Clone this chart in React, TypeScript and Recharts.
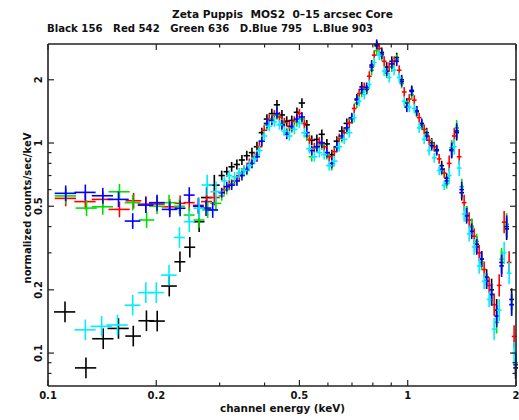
import React from 'react';
import { ScatterChart, Scatter, XAxis, YAxis, ErrorBar } from 'recharts';

const TITLE = 'Zeta Puppis  MOS2  0\u201315 arcsec Core';
const SUBTITLE = 'Black 156   Red 542   Green 636   D.Blue 795   L.Blue 903';
const X_LABEL = 'channel energy (keV)';
const Y_LABEL = 'normalized counts/sec/keV';

const X_MAJOR = [0.1, 0.2, 0.5, 1, 2];
const X_MINOR = [0.3, 0.4, 0.6, 0.7, 0.8, 0.9];
const Y_MAJOR = [0.1, 0.2, 0.5, 1, 2];
const Y_MINOR = [0.08, 0.09, 0.3, 0.4, 0.6, 0.7, 0.8, 0.9];

const GRID_A = [0.304,0.314,0.324,0.335,0.346,0.357,0.369,0.381,0.393,0.406,0.419,0.433,0.447,0.461,0.476,0.492,0.508,0.524,0.541,0.559,0.577,0.596,0.615,0.635,0.656,0.677,0.699,0.722,0.745,0.769,0.794,0.820,0.847,0.874,0.903,0.932,0.962,0.994,1.026,1.059,1.094,1.129,1.166,1.204,1.243,1.283,1.325,1.368,1.413,1.458,1.506,1.555,1.605,1.657,1.711,1.767,1.824,1.884,1.945,1.995];
const GRID_B = [0.309,0.319,0.330,0.340,0.351,0.363,0.375,0.387,0.399,0.412,0.426,0.440,0.454,0.469,0.484,0.500,0.516,0.533,0.550,0.568,0.586,0.605,0.625,0.645,0.666,0.688,0.710,0.733,0.757,0.782,0.807,0.833,0.860,0.888,0.917,0.947,0.978,1.010,1.043,1.076,1.111,1.147,1.185,1.223,1.263,1.304,1.347,1.390,1.435,1.482,1.530,1.580,1.631,1.684,1.739,1.796,1.854,1.914,1.976];

const BLACK_LOW_E = [0.1115,0.1275,0.1424,0.157,0.1726,0.1878,0.2012,0.2173,0.2327,0.2479,0.2631,0.276,0.29];
const BLACK_LOW = [0.157,0.085,0.117,0.131,0.1205,0.1425,0.142,0.2085,0.272,0.319,0.422,0.55,0.63];
const BLACK_HI = [0.70,0.73,0.77,0.79,0.83,0.87,0.90,0.96,1.12,1.30,1.38,1.52,1.36,1.27,1.28,1.40,1.55,1.22,1.03,1.04,1.10,0.99,0.88,1.02,1.14,1.24,1.30,1.62,1.85,1.80,2.35,2.90,2.70,2.30,2.45,2.55,2.00,1.55,1.78,1.42,1.22,1.12,1.00,0.93,0.78,0.68,0.93,1.12,0.58,0.46,0.40,0.33,0.28,0.23,0.20,0.16,0.27,0.39,0.18,0.085];

const RED_LOW_E = [0.112,0.127,0.142,0.158,0.173,0.187,0.201,0.218,0.233,0.247,0.262,0.276,0.29];
const RED_LOW = [0.545,0.526,0.539,0.483,0.531,0.512,0.512,0.497,0.516,0.52,0.505,0.526,0.55];
const RED_HI = [0.60,0.63,0.66,0.70,0.74,0.80,0.86,0.96,1.15,1.30,1.36,1.33,1.25,1.20,1.27,1.38,1.24,1.04,0.95,1.01,0.96,0.86,0.91,1.05,1.12,1.25,1.46,1.72,1.84,2.08,2.62,2.82,2.45,2.30,2.45,2.22,1.75,1.62,1.60,1.32,1.16,1.03,0.96,0.84,0.72,0.80,1.08,0.86,0.52,0.43,0.36,0.30,0.25,0.21,0.17,0.21,0.42,0.27,0.12];

const GREEN_LOW_E = [0.112,0.128,0.142,0.158,0.172,0.188,0.201,0.217,0.232,0.247,0.263,0.278,0.293];
const GREEN_LOW = [0.56,0.49,0.497,0.586,0.52,0.43,0.50,0.52,0.50,0.454,0.43,0.48,0.516];
const GREEN_HI = [0.56,0.60,0.64,0.66,0.72,0.74,0.80,0.88,1.02,1.22,1.30,1.36,1.24,1.12,1.18,1.26,1.30,1.08,0.86,0.95,0.98,0.88,0.78,0.95,1.06,1.16,1.30,1.55,1.74,1.82,2.22,2.75,2.60,2.15,2.30,2.50,1.92,1.50,1.70,1.40,1.22,1.10,0.99,0.92,0.74,0.64,0.95,1.18,0.62,0.46,0.40,0.34,0.27,0.22,0.19,0.14,0.28,0.41,0.17,0.09];

const BLUE_LOW_E = [0.112,0.127,0.142,0.157,0.172,0.187,0.201,0.218,0.233,0.247,0.262,0.275,0.287];
const BLUE_LOW = [0.576,0.582,0.561,0.539,0.425,0.506,0.520,0.483,0.489,0.565,0.50,0.49,0.48];
const BLUE_HI = [0.58,0.62,0.63,0.66,0.70,0.75,0.80,0.86,1.02,1.24,1.28,1.38,1.22,1.10,1.20,1.30,1.33,1.12,0.92,0.96,1.00,0.90,0.80,0.96,1.08,1.18,1.32,1.60,1.80,1.84,2.30,2.95,2.65,2.20,2.38,2.45,1.96,1.48,1.76,1.42,1.24,1.08,0.97,0.92,0.75,0.66,0.92,1.14,0.60,0.45,0.38,0.32,0.28,0.22,0.19,0.15,0.26,0.40,0.17,0.088];

const CYAN_LOW_E = [0.127,0.141,0.156,0.172,0.187,0.2,0.217,0.232,0.247,0.263,0.277,0.293];
const CYAN_LOW = [0.129,0.134,0.136,0.169,0.194,0.194,0.235,0.355,0.422,0.489,0.631,0.586];
const CYAN_HI = [0.66,0.70,0.69,0.72,0.74,0.78,0.84,0.92,1.08,1.20,1.26,1.22,1.14,1.08,1.16,1.24,1.12,0.94,0.86,0.90,0.88,0.78,0.82,0.96,1.04,1.12,1.32,1.58,1.70,1.90,2.42,2.62,2.20,2.05,2.22,2.05,1.58,1.48,1.46,1.18,1.04,0.92,0.85,0.74,0.63,0.70,0.96,0.76,0.46,0.37,0.32,0.26,0.22,0.18,0.13,0.16,0.30,0.24,0.10];

type Pt = { x: number; y: number; ex: [number, number]; ey: [number, number] };

const lowXFrac = (e: number) => (e < 0.16 ? 0.068 : e < 0.22 ? 0.05 : 0.035);
const gridXFrac = (e: number) => (e < 0.7 ? 0.02 : 0.015);
const gridYFac = (e: number) => (e < 1.3 ? 1.055 : e < 1.7 ? 1.09 : 1.13);

function build(lowE: number[], lowY: number[], lowFac: number, gridE: number[], gridY: number[]): Pt[] {
  const pts: Pt[] = [];
  lowE.forEach((e, i) => {
    const y = lowY[i];
    const xf = lowXFrac(e);
    pts.push({ x: e, y, ex: [e * xf, e * xf], ey: [y - y / lowFac, y * lowFac - y] });
  });
  gridE.forEach((e, i) => {
    const y = gridY[i];
    if (y === undefined) return;
    const xf = gridXFrac(e);
    const f = gridYFac(e);
    pts.push({ x: e, y, ex: [e * xf, e * xf], ey: [y - y / f, y * f - y] });
  });
  return pts;
}

const SERIES = [
  { name: 'Black', color: '#000000', data: build(BLACK_LOW_E, BLACK_LOW, 1.12, GRID_A, BLACK_HI) },
  { name: 'Red', color: '#ff0000', data: build(RED_LOW_E, RED_LOW, 1.09, GRID_B, RED_HI) },
  { name: 'Green', color: '#00e000', data: build(GREEN_LOW_E, GREEN_LOW, 1.09, GRID_A, GREEN_HI) },
  { name: 'D.Blue', color: '#0000ff', data: build(BLUE_LOW_E, BLUE_LOW, 1.09, GRID_A, BLUE_HI) },
  { name: 'L.Blue', color: '#00eeff', data: build(CYAN_LOW_E, CYAN_LOW, 1.12, GRID_B, CYAN_HI) },
];

const FONT = '"DejaVu Sans", sans-serif';
const AXIS_COLOR = '#222';
const Empty = () => <g />;

const W = 511;
const H = 412;
const MARGIN = { top: 35, right: 2, bottom: 0, left: 0 };
const TOP_AXIS_H = 1;
const PLOT_TOP = MARGIN.top + TOP_AXIS_H;

const X_TICKS = [...X_MAJOR, ...X_MINOR].sort((a, b) => a - b);
const Y_TICKS = [...Y_MAJOR, ...Y_MINOR].sort((a, b) => a - b);

const BottomTick = (p: any) => {
  const major = X_MAJOR.includes(p.payload.value);
  return (
    <g>
      <line x1={p.x} x2={p.x} y1={p.y} y2={p.y - (major ? 6 : 3.5)} stroke={AXIS_COLOR} strokeWidth={1.2} />
      {major && (
        <text x={p.x} y={p.y + 12.5} textAnchor="middle" fontFamily={FONT} fontWeight="bold" fontSize={10} fill="#111">
          {String(p.payload.value)}
        </text>
      )}
    </g>
  );
};
const TopTick = (p: any) => {
  const major = X_MAJOR.includes(p.payload.value);
  return <line x1={p.x} x2={p.x} y1={PLOT_TOP} y2={PLOT_TOP + (major ? 6 : 3.5)} stroke={AXIS_COLOR} strokeWidth={1.2} />;
};
const LeftTick = (p: any) => {
  const major = Y_MAJOR.includes(p.payload.value);
  return (
    <g>
      <line x1={p.x} x2={p.x + (major ? 6 : 3.5)} y1={p.y} y2={p.y} stroke={AXIS_COLOR} strokeWidth={1.2} />
      {major && (
        <text transform={`translate(${p.x - 6.5},${p.y}) rotate(-90)`} textAnchor="middle" fontFamily={FONT} fontWeight="bold" fontSize={10} fill="#111">
          {String(p.payload.value)}
        </text>
      )}
    </g>
  );
};
const RightTick = (p: any) => {
  const major = Y_MAJOR.includes(p.payload.value);
  return <line x1={p.x} x2={p.x - (major ? 6 : 3.5)} y1={p.y} y2={p.y} stroke={AXIS_COLOR} strokeWidth={1.2} />;
};

const textStyle: React.CSSProperties = { whiteSpace: 'pre' };

export default function App() {
  const axisLine = { stroke: AXIS_COLOR, strokeWidth: 1.6 };
  return (
    <div style={{ position: 'absolute', left: 8, top: 8, width: W, height: H, overflow: 'hidden' }}>
      <ScatterChart width={W} height={H} margin={MARGIN}>
        <XAxis xAxisId={0} type="number" dataKey="x" scale="log" domain={[0.1, 2]} allowDataOverflow ticks={X_TICKS} interval={0}
          tick={BottomTick} tickLine={false} tickSize={0} tickMargin={0} axisLine={axisLine} height={34} />
        <XAxis xAxisId="top" orientation="top" type="number" dataKey="x" scale="log" domain={[0.1, 2]} allowDataOverflow ticks={X_TICKS} interval={0}
          tick={TopTick} tickLine={false} tickSize={0} tickMargin={0} axisLine={axisLine} height={TOP_AXIS_H} />
        <YAxis yAxisId={0} type="number" dataKey="y" scale="log" domain={[0.0697, 2.96]} allowDataOverflow ticks={Y_TICKS} interval={0}
          tick={LeftTick} tickLine={false} tickSize={0} tickMargin={0} axisLine={axisLine} width={40} />
        <YAxis yAxisId="right" orientation="right" type="number" dataKey="y" scale="log" domain={[0.0697, 2.96]} allowDataOverflow ticks={Y_TICKS} interval={0}
          tick={RightTick} tickLine={false} tickSize={0} tickMargin={0} axisLine={axisLine} width={1} />
        <Scatter xAxisId="top" yAxisId="right" data={[{ x: 1, y: 1 }]} shape={Empty} isAnimationActive={false} />
        {SERIES.map((s) => (
          <Scatter key={s.name} name={s.name} data={s.data} shape={Empty} isAnimationActive={false}>
            <ErrorBar dataKey="ex" direction="x" width={0} stroke={s.color} strokeWidth={1.6} isAnimationActive={false} />
            <ErrorBar dataKey="ey" direction="y" width={0} stroke={s.color} strokeWidth={1.6} isAnimationActive={false} />
          </Scatter>
        ))}
      </ScatterChart>
      <svg width={W} height={H} style={{ position: 'absolute', left: 0, top: 0, pointerEvents: 'none' }}>
        <text x={164} y={9.5} style={textStyle} textLength={221} lengthAdjust="spacingAndGlyphs" fontFamily={FONT} fontWeight="bold" fontSize={10} fill="#111">{TITLE}</text>
        <text x={39} y={23.5} style={textStyle} textLength={326} lengthAdjust="spacingAndGlyphs" fontFamily={FONT} fontWeight="bold" fontSize={10} fill="#111">{SUBTITLE}</text>
        <text x={212} y={404} style={textStyle} textLength={125} lengthAdjust="spacingAndGlyphs" fontFamily={FONT} fontWeight="bold" fontSize={10} fill="#111">{X_LABEL}</text>
        <text transform="translate(23,200) rotate(-90)" textAnchor="middle" fontFamily={FONT} fontWeight="bold" fontSize={10} fill="#111">{Y_LABEL}</text>
      </svg>
    </div>
  );
}
